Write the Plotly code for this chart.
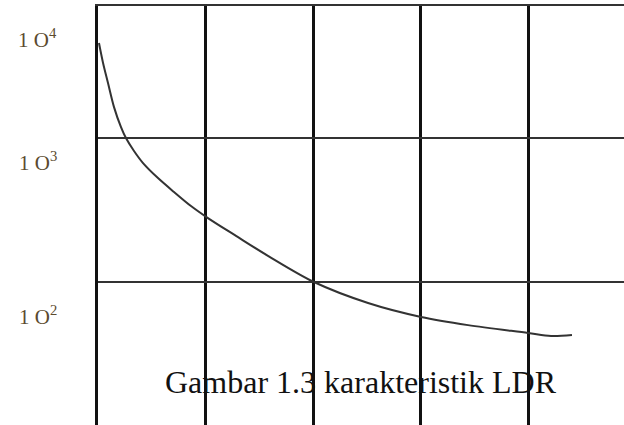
import math
import plotly.graph_objects as go

# LDR characteristic: resistance (log scale) against light level (grid units)
light_level = [0.009, 0.047, 0.093, 0.149, 0.214, 0.260, 0.335, 0.419, 0.558,
               0.707, 0.865, 1.023, 1.284, 1.581, 2.009, 2.512, 3.005, 3.442,
               4.000, 4.214, 4.409]
resistance = [4570, 3320, 2410, 1640, 1190, 1000, 813, 670, 527,
              422, 337, 278, 209, 152, 100, 71.5, 57.2, 50.2,
              44.3, 42.2, 42.8]

# y-axis labels and the decades they mark
tick_values = [1e4, 1e3, 1e2]
tick_labels = ["1 O<sup>4</sup>", "1 O<sup>3</sup>", "1 O<sup>2</sup>"]
label_offsets = [-44, -23, -33]

# grid positions
x_grid = [1, 2, 3, 4]
y_grid = [1e2, 1e3]

caption = "Gambar 1.3 karakteristik LDR"

Y_LOG_RANGE = [1.007, 3.917]

fig = go.Figure()
fig.add_trace(go.Scatter(
    x=light_level, y=resistance, mode="lines",
    line=dict(color="#333333", width=2, shape="spline", smoothing=0.9),
    hoverinfo="skip", showlegend=False,
))

annotations = []
span = Y_LOG_RANGE[1] - Y_LOG_RANGE[0]
for val, txt, off in zip(tick_values, tick_labels, label_offsets):
    annotations.append(dict(
        x=0, xref="paper", xanchor="right", xshift=-39,
        y=(math.log10(val) - Y_LOG_RANGE[0]) / span, yref="paper",
        yanchor="middle", yshift=off,
        text=txt, showarrow=False,
        font=dict(family="Liberation Serif", size=21, color="#5b4a2e"),
    ))
annotations.append(dict(
    x=0.5, xref="paper", xanchor="center",
    y=0.103, yref="paper", yanchor="middle",
    text=caption, showarrow=False,
    font=dict(family="Liberation Serif", size=32, color="#111111"),
))

fig.update_layout(
    width=624, height=425,
    margin=dict(l=98, r=0, t=6, b=0),
    paper_bgcolor="white", plot_bgcolor="white",
    annotations=annotations,
    xaxis=dict(
        range=[0, 4.893], side="top",
        tickvals=x_grid, showticklabels=False, ticks="",
        showgrid=True, gridcolor="#111111", gridwidth=2.5,
        zeroline=False, showline=True, linecolor="#333333", linewidth=1.5,
    ),
    yaxis=dict(
        type="log", range=Y_LOG_RANGE,
        tickvals=y_grid, showticklabels=False, ticks="",
        showgrid=True, gridcolor="#333333", gridwidth=1.5,
        zeroline=False, showline=True, linecolor="#111111", linewidth=2.5,
    ),
)

fig.write_html("out.html")
